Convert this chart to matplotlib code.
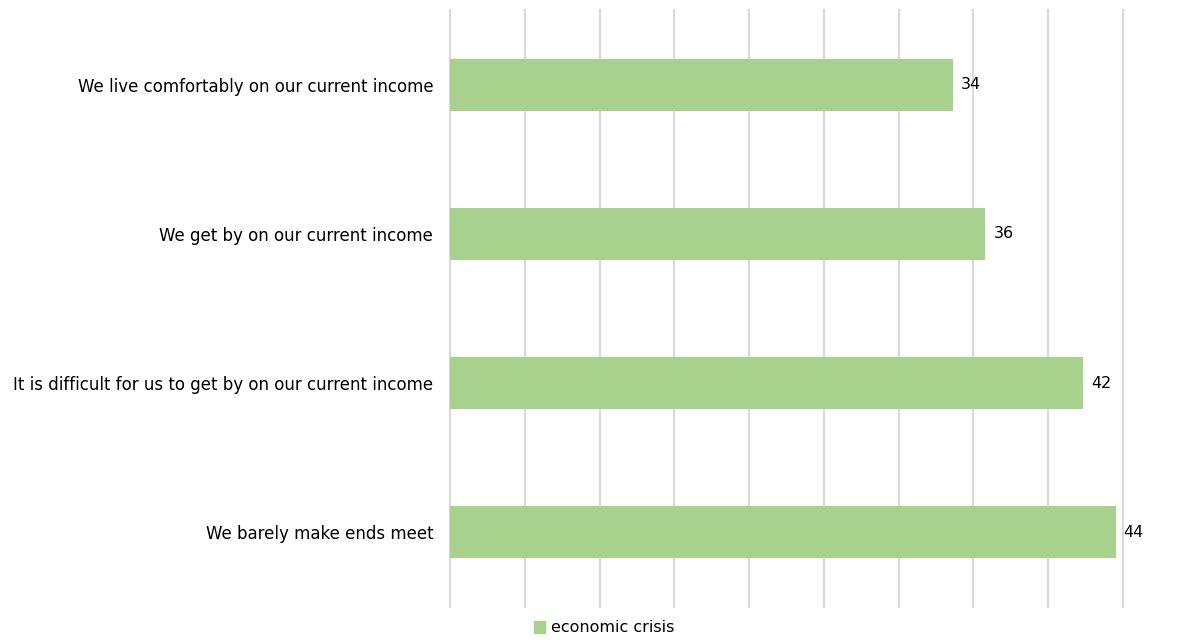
import matplotlib.pyplot as plt
import numpy as np
from matplotlib.patches import Patch

categories = [
    "We live comfortably on our current income",
    "We get by on our current income",
    "It is difficult for us to get by on our current income",
    "We barely make ends meet",
]
values = [34, 36, 42, 44]
series_name = "economic crisis"

bar_color = "#a9d18e"
grid_color = "#d9d9d9"

plt.rcParams["font.family"] = ["DejaVu Sans"]

fig = plt.figure(figsize=(11.93, 6.41), dpi=100)
ax = fig.add_axes([450 / 1193, 1 - 607 / 641, 673 / 1193, 597 / 641])

y = np.arange(len(categories))
bars = ax.barh(y, values, height=0.35, color=bar_color, zorder=2)

xmin, xmax = 3.07, 44.46
ax.set_xlim(xmin, xmax)
ax.set_ylim(len(categories) - 0.5, -0.5)
ax.set_xticks(np.linspace(xmin, xmax, 10))
ax.set_xticklabels([])
ax.tick_params(axis="x", length=0)
ax.tick_params(axis="y", length=0, pad=12, labelsize=12)
ax.set_yticks(y)
ax.set_yticklabels(categories)
ax.grid(axis="x", color=grid_color, linewidth=1.5, zorder=0)
for line in ax.get_xgridlines():
    line.set_clip_on(False)
for s in ax.spines.values():
    s.set_visible(False)

for bar, v in zip(bars, values):
    ax.text(bar.get_width() + 0.5, bar.get_y() + bar.get_height() / 2, str(v),
            va="center", ha="left", fontsize=11.5)

handle = Patch(color=bar_color, label=series_name)
fig.legend(handles=[handle], loc="center", bbox_to_anchor=(604 / 1193, 1 - 628 / 641),
           frameon=False, fontsize=11.5, handlelength=0.7, handleheight=0.7,
           handletextpad=0.4)

fig.savefig("out.png", dpi=100)
